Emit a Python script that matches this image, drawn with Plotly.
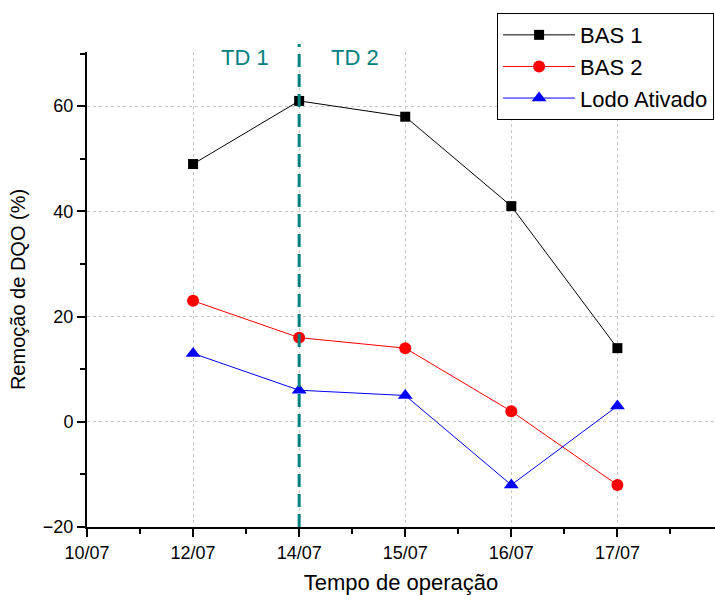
import plotly.graph_objects as go

tick_labels = ["10/07", "12/07", "14/07", "15/07", "16/07", "17/07"]
x_pos = [1, 2, 3, 4, 5]
bas1 = [49, 61, 58, 41, 14]
bas2 = [23, 16, 14, 2, -12]
lodo = [13, 6, 5, -12, 3]

font = "Liberation Sans, Arial, sans-serif"
fig = go.Figure()
fig.add_trace(go.Scatter(x=x_pos, y=bas1, name="BAS 1", mode="lines+markers",
                         line=dict(color="black", width=1),
                         marker=dict(symbol="square", size=10, color="black")))
fig.add_trace(go.Scatter(x=x_pos, y=bas2, name="BAS 2", mode="lines+markers",
                         line=dict(color="red", width=1),
                         marker=dict(symbol="circle", size=12, color="red")))
fig.add_trace(go.Scatter(x=x_pos, y=lodo, name="Lodo Ativado", mode="lines+markers",
                         line=dict(color="blue", width=1),
                         marker=dict(symbol="triangle-up", size=13, color="blue")))

fig.add_shape(type="line", xref="x", yref="paper", x0=2, x1=2, y0=0, y1=1.017,
              line=dict(color="#008080", width=3, dash="13px,7px"))
fig.add_annotation(x=1.49, y=69.3, xref="x", yref="y", text="TD 1", showarrow=False,
                   font=dict(color="#008080", size=22, family=font))
fig.add_annotation(x=2.53, y=69.3, xref="x", yref="y", text="TD 2", showarrow=False,
                   font=dict(color="#008080", size=22, family=font))

fig.update_layout(
    width=715, height=595,
    margin=dict(l=87, r=0, t=52, b=68, autoexpand=False),
    plot_bgcolor="white", paper_bgcolor="white",
    font=dict(family=font, color="black"),
    legend=dict(x=0.653, y=1.082, xanchor="left", yanchor="top",
                bordercolor="black", borderwidth=1, bgcolor="white",
                font=dict(size=22, family=font), tracegroupgap=0,
                itemwidth=72),
    showlegend=True,
)
fig.update_xaxes(
    range=[0, 5.92], tickmode="array", tickvals=list(range(len(tick_labels))),
    ticktext=tick_labels, showline=True, linecolor="black", linewidth=2,
    ticks="outside", ticklen=8, tickwidth=2, tickcolor="black",
    tickfont=dict(size=18, family=font),
    showgrid=True, gridcolor="#c8c8c8", griddash="dot", gridwidth=1,
    minor=dict(tickmode="linear", tick0=0.5, dtick=1, ticks="outside", ticklen=5,
               tickwidth=2, tickcolor="black", showgrid=False),
    title=dict(text="Tempo de operação", font=dict(size=22, family=font), standoff=14),
    zeroline=False,
)
fig.update_yaxes(
    range=[-20, 70.3], tickmode="array", tickvals=[-20, 0, 20, 40, 60],
    showline=True, linecolor="black", linewidth=2,
    ticks="outside", ticklen=8, tickwidth=2, tickcolor="black",
    tickfont=dict(size=18, family=font),
    showgrid=True, gridcolor="#c8c8c8", griddash="dot", gridwidth=1,
    minor=dict(tickmode="linear", tick0=-10, dtick=20, ticks="outside", ticklen=5,
               tickwidth=2, tickcolor="black", showgrid=False),
    title=dict(text="Remoção de DQO (%)", font=dict(size=20, family=font), standoff=12),
    zeroline=False,
)
fig.write_html("out.html")
